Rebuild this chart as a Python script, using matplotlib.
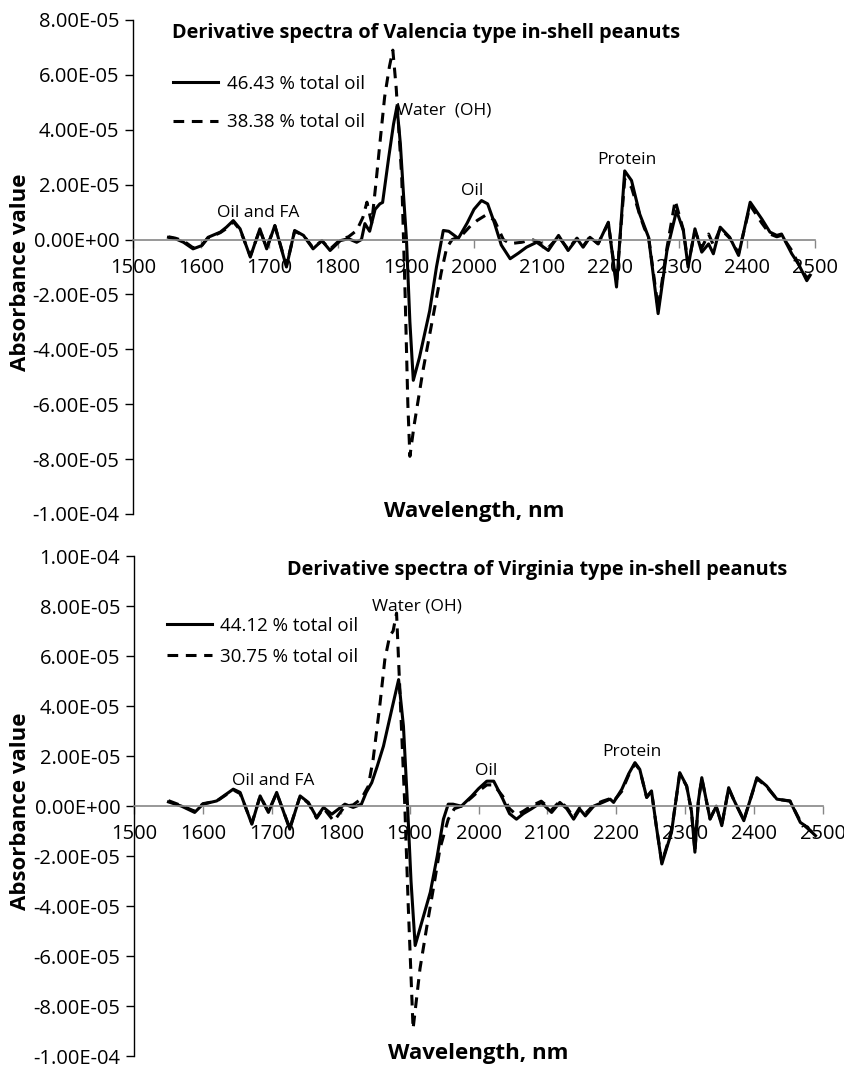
import matplotlib
matplotlib.use('Agg')
import matplotlib.pyplot as plt
from matplotlib.ticker import FuncFormatter, MultipleLocator

plt.rcParams['font.family'] = ['Open Sans', 'DejaVu Sans']

# ---- Valencia (top panel), values in 1e-5 absorbance units ----
val_hi_wl = [1552, 1562, 1574, 1588, 1601, 1610, 1628, 1637, 1647, 1657, 1672, 1686, 1696, 1708,
             1725, 1737, 1750, 1764, 1777, 1789, 1804, 1816, 1828, 1835, 1840, 1847, 1855, 1862,
             1866, 1875, 1882, 1887, 1892, 1897, 1901, 1906, 1911, 1920, 1935, 1945, 1955, 1963,
             1977, 1990, 2000, 2011, 2020, 2030, 2040, 2053, 2065, 2077, 2092, 2109, 2124, 2138,
             2151, 2160, 2170, 2182, 2197, 2209, 2221, 2231, 2243, 2256, 2270, 2283, 2297, 2307,
             2314, 2324, 2334, 2344, 2351, 2361, 2375, 2388, 2405, 2422, 2434, 2444, 2451, 2466,
             2476, 2488, 2493]
val_hi = [0.08, 0.03, -0.1, -0.34, -0.22, 0.08, 0.27, 0.45, 0.69, 0.39, -0.64, 0.39, -0.34, 0.51,
          -1.0, 0.33, 0.15, -0.34, -0.04, -0.4, -0.04, 0.03, -0.1, 0.0, 0.58, 0.3, 1.1, 1.3,
          1.35, 3.0, 4.2, 4.85, 3.5, 1.5, 0.0, -3.0, -5.13, -4.3, -2.6, -1.0, 0.33, 0.3,
          0.04, 0.6, 1.1, 1.42, 1.3, 0.6, -0.2, -0.7, -0.5, -0.28, -0.1, -0.4, 0.15, -0.4,
          0.03, -0.28, 0.08, -0.16, 0.63, -1.73, 2.5, 2.15, 0.93, 0.08, -2.7, -0.4, 1.05, 0.33,
          -1.0, 0.39, -0.46, -0.16, -0.52, 0.45, 0.08, -0.58, 1.36, 0.75, 0.27, 0.15, 0.2, -0.52,
          -0.9, -1.5, -1.3]

val_lo_wl = [1552, 1562, 1574, 1588, 1601, 1610, 1628, 1637, 1647, 1657, 1672, 1686, 1696, 1708,
             1725, 1737, 1750, 1764, 1777, 1789, 1804, 1816, 1828, 1837, 1843, 1850, 1856, 1862,
             1869, 1876, 1881, 1886, 1894, 1899, 1903, 1906, 1912, 1925, 1940, 1952, 1960, 1968,
             1980, 1995, 2005, 2018, 2030, 2043, 2053, 2070, 2085, 2100, 2109, 2124, 2138, 2151,
             2160, 2170, 2182, 2197, 2209, 2221, 2231, 2243, 2250, 2256, 2270, 2283, 2295, 2307,
             2314, 2324, 2334, 2344, 2351, 2361, 2375, 2388, 2405, 2422, 2434, 2444, 2451, 2466,
             2476, 2488, 2493]
val_lo = [0.1, 0.05, -0.05, -0.3, -0.2, 0.05, 0.25, 0.4, 0.65, 0.35, -0.6, 0.35, -0.3, 0.5,
          -0.95, 0.3, 0.15, -0.3, -0.05, -0.35, 0.0, 0.1, 0.33, 0.8, 1.36, 0.6, 2.0, 3.5,
          5.2, 6.3, 6.9, 5.5, 2.3, -2.0, -6.0, -7.9, -6.8, -4.8, -2.8, -1.2, -0.3, 0.0,
          0.1, 0.5, 0.7, 0.9, 0.7, 0.0, -0.15, -0.1, 0.0, -0.15, -0.3, 0.1, -0.35, 0.05,
          -0.25, 0.1, -0.15, 0.6, -1.6, 2.2, 1.9, 0.9, 0.4, 0.1, -2.5, -0.3, 1.42, 0.35,
          -0.9, 0.3, -0.3, 0.2, -0.2, 0.4, 0.05, -0.5, 1.25, 0.6, 0.2, 0.1, 0.15, -0.4,
          -0.9, -1.4, -1.3]

# ---- Virginia (bottom panel) ----
vir_hi_wl = [1550, 1569, 1588, 1600, 1620, 1644, 1654, 1671, 1683, 1695, 1707, 1726, 1741, 1753,
             1765, 1775, 1787, 1806, 1818, 1830, 1837, 1845, 1853, 1862, 1874, 1884, 1891, 1897,
             1902, 1908, 1918, 1930, 1940, 1949, 1956, 1963, 1975, 1990, 2000, 2012, 2022, 2035,
             2045, 2055, 2065, 2076, 2091, 2106, 2118, 2128, 2138, 2147, 2155, 2167, 2180, 2191,
             2196, 2208, 2218, 2227, 2234, 2244, 2251, 2258, 2266, 2280, 2292, 2302, 2309, 2314,
             2319, 2324, 2336, 2345, 2353, 2363, 2370, 2385, 2404, 2418, 2433, 2452, 2467, 2474,
             2489]
vir_hi = [0.17, 0.0, -0.25, 0.08, 0.21, 0.68, 0.55, -0.72, 0.41, -0.25, 0.55, -0.92, 0.41, 0.15,
          -0.45, -0.05, -0.32, 0.08, -0.05, 0.08, 0.55, 0.94, 1.6, 2.4, 3.86, 5.06, 3.2, 0.0,
          -3.0, -5.57, -4.6, -3.44, -2.0, -0.52, 0.08, 0.08, 0.0, 0.4, 0.7, 1.0, 1.0, 0.3,
          -0.3, -0.52, -0.3, -0.12, 0.15, -0.25, 0.15, -0.1, -0.52, -0.12, -0.39, 0.0, 0.15, 0.28,
          0.15, 0.68, 1.3, 1.74, 1.47, 0.35, 0.61, -0.8, -2.31, -1.05, 1.34, 0.81, -0.2, -1.84,
          0.2, 1.14, -0.52, 0.0, -0.78, 0.74, 0.28, -0.58, 1.14, 0.81, 0.28, 0.21, -0.65, -0.78,
          -1.18]

vir_lo_wl = [1550, 1569, 1588, 1600, 1620, 1644, 1654, 1671, 1683, 1695, 1707, 1726, 1741, 1753,
             1765, 1775, 1790, 1806, 1818, 1830, 1840, 1847, 1857, 1864, 1871, 1876, 1881, 1886,
             1893, 1898, 1905, 1915, 1925, 1935, 1944, 1956, 1965, 1975, 1990, 2000, 2012, 2022,
             2035, 2045, 2055, 2065, 2076, 2091, 2106, 2118, 2128, 2138, 2147, 2155, 2167, 2180,
             2191, 2196, 2208, 2218, 2227, 2234, 2244, 2251, 2258, 2266, 2280, 2292, 2302, 2309,
             2314, 2319, 2324, 2336, 2345, 2353, 2363, 2370, 2385, 2404, 2418, 2433, 2452, 2467,
             2474, 2489]
vir_lo = [0.22, 0.02, -0.2, 0.1, 0.2, 0.65, 0.5, -0.68, 0.4, -0.22, 0.52, -0.88, 0.4, 0.12,
          -0.48, -0.08, -0.6, 0.0, 0.05, 0.3, 0.8, 1.87, 4.1, 5.86, 6.8, 7.0, 7.72, 4.5,
          0.0, -4.0, -8.9, -6.5, -4.8, -3.2, -1.7, -0.52, -0.1, 0.0, 0.35, 0.6, 0.85, 0.85,
          0.4, -0.1, -0.35, -0.2, 0.0, 0.2, -0.15, 0.2, -0.05, -0.45, -0.05, -0.3, 0.05, 0.2,
          0.3, 0.2, 0.6, 1.25, 1.7, 1.45, 0.35, 0.6, -0.8, -2.25, -1.0, 1.3, 0.8, -0.2,
          -1.8, 0.2, 1.1, -0.5, 0.0, -0.75, 0.7, 0.28, -0.55, 1.1, 0.78, 0.28, 0.2, -0.6,
          -0.8, -1.15]

# band labels: (text, wavelength, value in 1e-5)
val_notes = [('Oil and FA', 1683, 0.98), ('Water  (OH)', 1956, 4.7),
             ('Oil', 1997, 1.78), ('Protein', 2224, 2.9)]
vir_notes = [('Oil and FA', 1702, 1.0), ('Water (OH)', 1910, 8.0),
             ('Oil', 2011, 1.39), ('Protein', 2223, 2.15)]

SCALE = 1e-5


def sci(v, pos):
    if abs(v) < 1e-12:
        v = 0.0
    return f"{v:.2E}"


def draw_panel(ax, wl1, y1, wl2, y2, lab1, lab2, title, ymax, notes,
               leg_anchor, leg_space, title_xy):
    ax.plot(wl1, [v * SCALE for v in y1], color='black', lw=2.2, label=lab1,
            solid_joinstyle='round')
    ax.plot(wl2, [v * SCALE for v in y2], color='black', lw=2.2, ls=(0, (3.5, 2.5)), label=lab2)
    ax.set_xlim(1500, 2500)
    ax.set_ylim(-1e-4, ymax)
    ax.xaxis.set_major_locator(MultipleLocator(100))
    ax.yaxis.set_major_locator(MultipleLocator(2e-5))
    ax.yaxis.set_major_formatter(FuncFormatter(sci))
    for s in ['top', 'right']:
        ax.spines[s].set_visible(False)
    ax.spines['bottom'].set_position(('data', 0))
    ax.spines['bottom'].set_color('#868686')
    ax.spines['bottom'].set_linewidth(1.2)
    ax.spines['left'].set_linewidth(1.0)
    ax.tick_params(axis='x', colors='#868686', length=6, width=1, direction='out', pad=7,
                   labelcolor='black', labelsize=14.5)
    ax.tick_params(axis='y', length=6, width=1, direction='out', pad=4, labelsize=14.5)
    ax.patch.set_alpha(0)
    ax.legend(loc='center left', bbox_to_anchor=leg_anchor, frameon=False, fontsize=13.5,
              handlelength=2.4, handletextpad=0.45, labelspacing=leg_space, borderaxespad=0)
    ax.text(title_xy[0], title_xy[1], title, transform=ax.transAxes, fontsize=14.3,
            fontweight='bold', ha='center', va='center')
    for txt, x, y in notes:
        ax.text(x, y * SCALE, txt, fontsize=12.5, ha='center', va='center')
    ax.set_xlabel('Wavelength, nm', fontsize=16, fontweight='bold')
    ax.set_ylabel('Absorbance value', fontsize=16, fontweight='bold')
    ax.yaxis.set_label_coords(-0.15, 0.49)
    ax.xaxis.set_label_coords(0.5, 0.026)


fig = plt.figure(figsize=(8.44, 10.67), dpi=100)
fig.patch.set_facecolor('white')

ax1 = fig.add_axes([0.1576, 0.5183, 0.808, 0.463])
draw_panel(ax1, val_hi_wl, val_hi, val_lo_wl, val_lo,
           '46.43 % total oil', '38.38 % total oil',
           'Derivative spectra of Valencia type in-shell peanuts', 8e-5,
           val_notes, (0.048, 0.832), 1.1, (0.43, 0.974))

ax2 = fig.add_axes([0.1588, 0.0100, 0.8164, 0.4689])
draw_panel(ax2, vir_hi_wl, vir_hi, vir_lo_wl, vir_lo,
           '44.12 % total oil', '30.75 % total oil',
           'Derivative spectra of Virginia type in-shell peanuts', 1e-4,
           vir_notes, (0.037, 0.83), 0.7, (0.585, 0.972))

plt.savefig('out.png', dpi=100, facecolor='white')
